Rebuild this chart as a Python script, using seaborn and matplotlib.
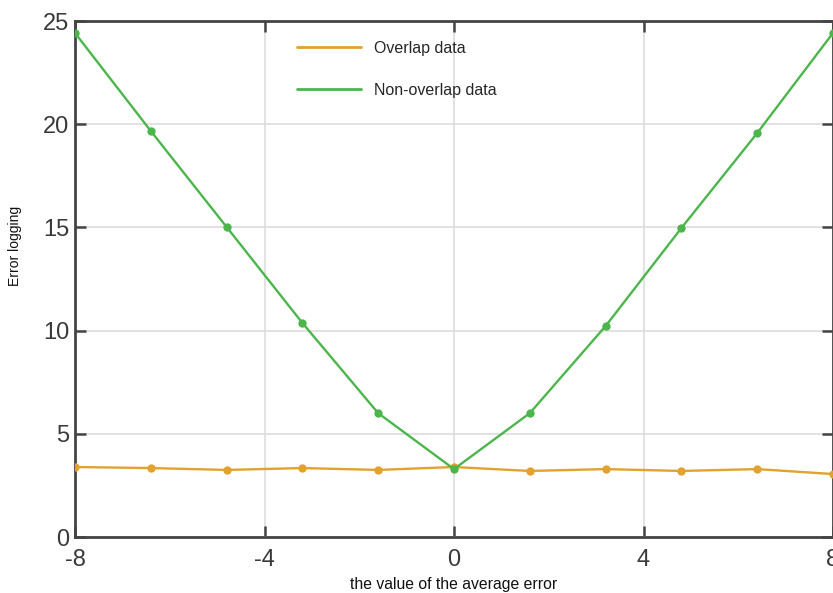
import matplotlib
matplotlib.use("Agg")
import matplotlib.pyplot as plt
import seaborn as sns
import pandas as pd

x_vals = [-8, -6.4, -4.8, -3.2, -1.6, 0, 1.6, 3.2, 4.8, 6.4, 8]
overlap = [3.39, 3.34, 3.25, 3.34, 3.25, 3.39, 3.20, 3.29, 3.20, 3.29, 3.05]
non_overlap = [24.42, 19.67, 15.02, 10.37, 6.0, 3.29, 6.0, 10.22, 14.97, 19.57, 24.42]
series_names = ["Overlap data", "Non-overlap data"]
x_ticks = [-8, -4, 0, 4, 8]
y_ticks = [0, 5, 10, 15, 20, 25]

sns.set_theme(style="white")
plt.rcParams['font.family'] = ['Liberation Sans', 'DejaVu Sans']

df = pd.DataFrame({
    "x": x_vals * 2,
    "y": overlap + non_overlap,
    "series": [series_names[0]] * len(x_vals) + [series_names[1]] * len(x_vals),
})

fig = plt.figure(figsize=(8.33, 5.93), dpi=100)
ax = fig.add_axes([75 / 833, (593 - 537) / 593, 758 / 833, 516 / 593])

palette = {series_names[0]: "#E2A22E", series_names[1]: "#4CB64C"}
sns.lineplot(data=df, x="x", y="y", hue="series", palette=palette, marker="o",
             markersize=6, markeredgewidth=0, linewidth=1.7, ax=ax, zorder=3)

ax.set_xlim(-8, 8)
ax.set_ylim(0, 25)
ax.set_xticks(x_ticks)
ax.set_xticklabels([str(t) for t in x_ticks])
ax.set_yticks(y_ticks)
ax.grid(True, color="#DDDDDD", linewidth=1.2)
ax.set_axisbelow(True)
for s in ax.spines.values():
    s.set_color("#444444")
    s.set_linewidth(2)
ax.tick_params(direction="in", length=8, width=1.8, color="#444444",
               labelsize=17, labelcolor="#3a3a3a", top=True, right=True,
               bottom=True, left=True)
ax.tick_params(axis="x", pad=9)
ax.tick_params(axis="y", pad=4)

ax.set_xlabel("the value of the average error", fontsize=11.3, color="#111111")
ax.set_ylabel("Error logging", fontsize=10, color="#111111")
ax.xaxis.set_label_coords(0.5, -0.077)
ax.yaxis.set_label_coords(-0.070, 0.565)

leg = ax.legend(loc="upper left", bbox_to_anchor=(0.274, 0.99), frameon=False,
                fontsize=11.5, handlelength=4.0, handletextpad=0.8, labelspacing=1.7)
for line in leg.get_lines():
    line.set_marker("")
    line.set_linewidth(2)

fig.savefig("out.png", dpi=100)
